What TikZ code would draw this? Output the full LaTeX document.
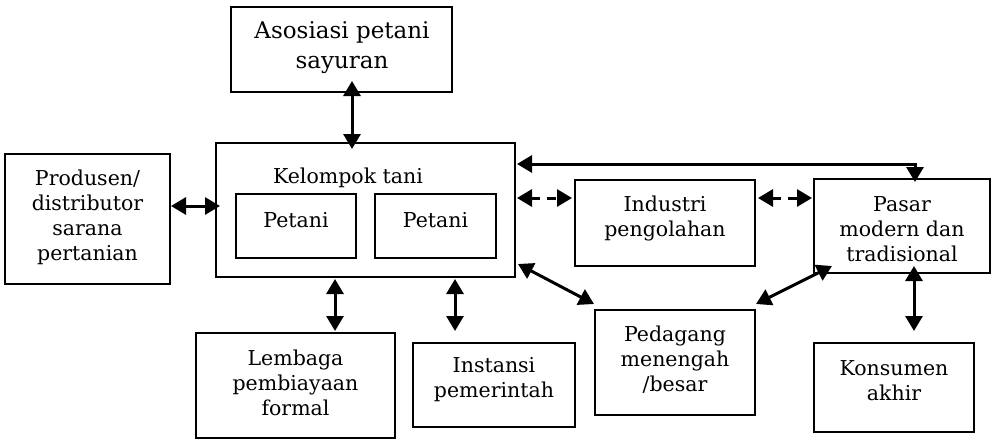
\documentclass[tikz,border=0pt]{standalone}
\usepackage{fontspec}
\setmainfont{DejaVu Serif}
\usetikzlibrary{arrows.meta,calc}

\tikzset{
  box/.style={draw=black, line width=2pt, rectangle, inner sep=0pt},
  txt/.style={align=center, inner sep=0pt, font=\fontsize{20.5}{25}\selectfont},
  bigtxt/.style={align=center, inner sep=0pt, font=\fontsize{23}{30}\selectfont},
  link/.style={line width=3pt, {Triangle[length=15pt,width=17pt]}-{Triangle[length=15pt,width=17pt]}},
  dashlink/.style={link, dash pattern=on 9pt off 7pt}
}

\begin{document}
\begin{tikzpicture}[x=1pt, y=-1pt]
\fill[white] (0,0) rectangle (992,439);
\useasboundingbox (0,0) rectangle (992,439);

% boxes
\node[box, minimum width=221pt, minimum height=85pt]  (asos)  at (341.5,49.5) {};
\node[box, minimum width=299pt, minimum height=134pt] (kel)   at (365.5,210) {};
\node[box, minimum width=120pt, minimum height=64pt]  (pet1)  at (296,226) {};
\node[box, minimum width=121pt, minimum height=64pt]  (pet2)  at (435.5,226) {};
\node[box, minimum width=165pt, minimum height=130pt] (prod)  at (87.5,219) {};
\node[box, minimum width=180pt, minimum height=86pt]  (ind)   at (665,223) {};
\node[box, minimum width=176pt, minimum height=94pt]  (pasar) at (902,226) {};
\node[box, minimum width=160pt, minimum height=89pt]  (kons)  at (894,387.5) {};
\node[box, minimum width=160pt, minimum height=105pt] (ped)   at (675,362.5) {};
\node[box, minimum width=199pt, minimum height=105pt] (lemb)  at (295.5,385.5) {};
\node[box, minimum width=162pt, minimum height=84pt]  (inst)  at (494,385) {};

% labels
\node[bigtxt] (asosT)  at (342,48)    {Asosiasi petani\\sayuran};
\node[txt]    (kelT)   at (348,178)   {Kelompok tani};
\node[txt]    (pet1T)  at (296,220)   {Petani};
\node[txt]    (pet2T)  at (435.5,220) {Petani};
\node[txt]    (prodT)  at (87.5,217)  {Produsen/\\distributor\\sarana\\pertanian};
\node[txt]    (indT)   at (665,218)   {Industri\\pengolahan};
\node[txt]    (pasarT) at (902,229)   {Pasar\\modern dan\\tradisional};
\node[txt]    (konsT)  at (894,380.5) {Konsumen\\akhir};
\node[txt]    (pedT)   at (675,360)   {Pedagang\\menengah\\/besar};
\node[txt]    (lembT)  at (295.5,383) {Lembaga\\pembiayaan\\formal};
\node[txt]    (instT)  at (494,380)   {Instansi\\pemerintah};

% connectors
\draw[link] ($(asos.south)+(10.5,-12)$) -- ($(kel.north)+(-13.5,7)$);
\draw[link] ($(prod.east)+(0,-13)$) -- ($(kel.west)+(5,-4)$);
\draw[link] ($(kel.east)+(1,-46)$) -| ($(pasar.north)+(13,4)$);
\draw[dashlink] ($(kel.east)+(1,-12)$) -- ($(ind.west)+(-2,-25)$);
\draw[dashlink] ($(ind.east)+(2,-25)$) -- ($(pasar.west)+(-1,-28)$);
\draw[link] ($(kel.south east)+(2,-14)$) -- ($(ped.north west)+(0,-5)$);
\draw[link] ($(ped.north east)+(0,-5)$) -- ($(pasar.south west)+(19,-8)$);
\draw[link] ($(pasar.south)+(12,-8)$) -- ($(kons.north)+(20,-11)$);
\draw[link] ($(kel.south)+(-30.5,1)$) -- ($(lemb.north)+(39.5,-1)$);
\draw[link] ($(kel.south)+(89.5,1)$) -- ($(inst.north)+(-39,-11)$);
\end{tikzpicture}
\end{document}
